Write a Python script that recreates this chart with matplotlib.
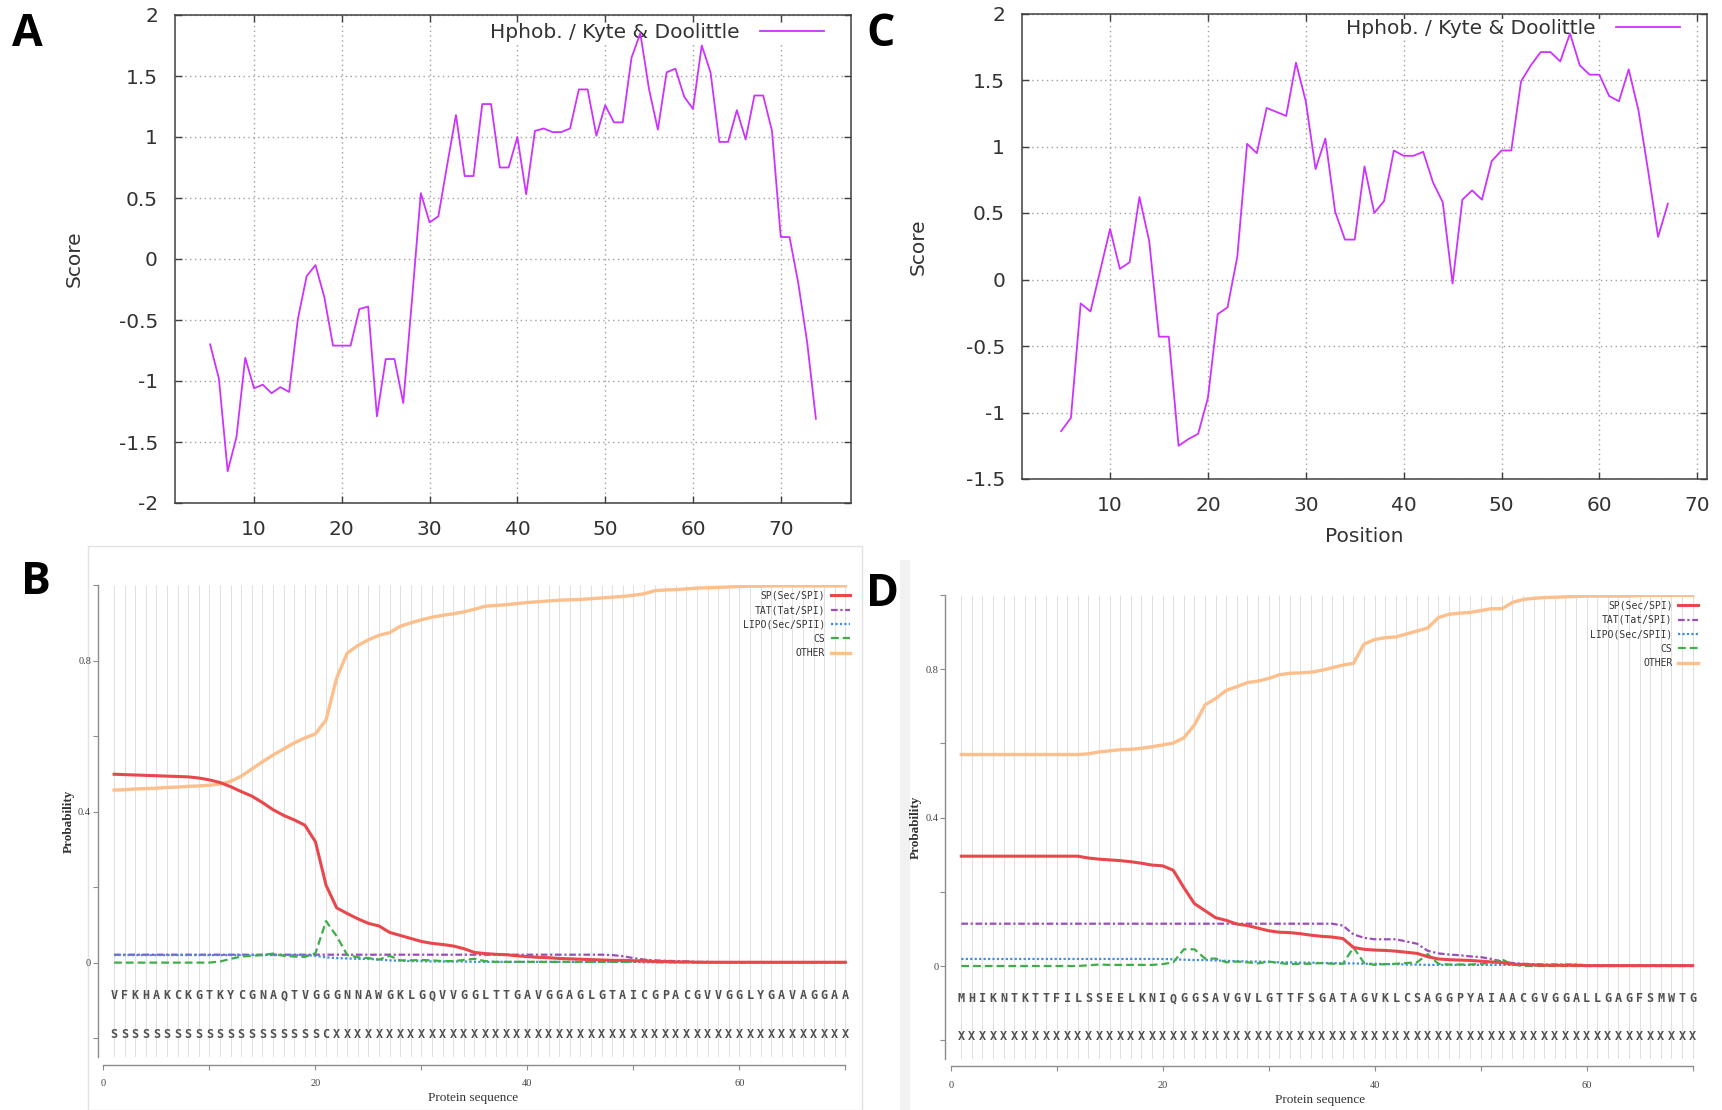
import matplotlib
matplotlib.use("Agg")
import matplotlib.pyplot as plt
from matplotlib.patches import Rectangle
import numpy as np

# ---------------- data ----------------
# Panel A: Kyte & Doolittle hydrophobicity (positions 5..74)
a_pos = list(range(5, 75))
a_score = [-0.70, -0.98, -1.74, -1.46, -0.81, -1.06, -1.03, -1.10, -1.05, -1.09,
           -0.49, -0.14, -0.05, -0.31, -0.71, -0.71, -0.71, -0.41, -0.39, -1.29,
           -0.82, -0.82, -1.18, -0.33, 0.54, 0.30, 0.35, 0.77, 1.18, 0.68,
           0.68, 1.27, 1.27, 0.75, 0.75, 1.00, 0.53, 1.05, 1.07, 1.04,
           1.04, 1.07, 1.39, 1.39, 1.01, 1.26, 1.12, 1.12, 1.65, 1.85,
           1.39, 1.06, 1.53, 1.56, 1.33, 1.23, 1.75, 1.53, 0.96, 0.96,
           1.22, 0.98, 1.34, 1.34, 1.05, 0.18, 0.18, -0.20, -0.68, -1.31]

# Panel C: Kyte & Doolittle hydrophobicity (positions 5..67)
c_pos = list(range(5, 68))
c_score = [-1.14, -1.04, -0.18, -0.24, 0.07, 0.38, 0.08, 0.13, 0.62, 0.29,
           -0.43, -0.43, -1.25, -1.20, -1.16, -0.89, -0.26, -0.21, 0.17, 1.02,
           0.95, 1.29, 1.26, 1.23, 1.63, 1.34, 0.83, 1.06, 0.51, 0.30,
           0.30, 0.85, 0.50, 0.59, 0.97, 0.93, 0.93, 0.96, 0.73, 0.58,
           -0.03, 0.60, 0.67, 0.60, 0.89, 0.97, 0.97, 1.49, 1.61, 1.71,
           1.71, 1.64, 1.85, 1.61, 1.54, 1.54, 1.38, 1.34, 1.58, 1.27,
           0.81, 0.32, 0.57]

hp_xticks = [10, 20, 30, 40, 50, 60, 70]
a_yticks = [-2, -1.5, -1, -0.5, 0, 0.5, 1, 1.5, 2]
a_yticklabels = ["-2", "-1.5", "-1", "-0.5", "0", "0.5", "1", "1.5", "2"]
c_yticks = [-1.5, -1, -0.5, 0, 0.5, 1, 1.5, 2]
c_yticklabels = ["-1.5", "-1", "-0.5", "0", "0.5", "1", "1.5", "2"]

# Panel B: SignalP probabilities (positions 1..70)
b_seq = "VFKHAKCKGTKYCGNAQTVGGGNNAWGKLGQVVGGLTTGAVGGAGLGTAICGPACGVVGGLYGAVAGGAA"
b_lab = ("SSSSSSSSSSSSSSSSSSSS" "C"
         "XXXXXXXXXX" "XXXXXXXXXX" "XXXXXXXXXX" "XXXXXXXXXX" "XXXXXXXXX")
b_sp = [0.499, 0.498, 0.497, 0.496, 0.495, 0.494, 0.493, 0.492, 0.489, 0.484,
        0.477, 0.466, 0.453, 0.441, 0.424, 0.405, 0.390, 0.378, 0.364, 0.320,
        0.205, 0.145, 0.130, 0.116, 0.104, 0.097, 0.080, 0.072, 0.064, 0.056,
        0.051, 0.048, 0.044, 0.037, 0.027, 0.024, 0.022, 0.021, 0.018, 0.016,
        0.014, 0.013, 0.011, 0.010, 0.009, 0.008, 0.007, 0.006, 0.006, 0.005,
        0.004, 0.003, 0.003, 0.002, 0.002, 0.001, 0.001, 0.001, 0.001, 0.001,
        0.001, 0.001, 0.001, 0.001, 0.001, 0.001, 0.001, 0.001, 0.001, 0.001]
b_tat = [0.021, 0.021, 0.021, 0.021, 0.021, 0.021, 0.021, 0.021, 0.021, 0.021,
         0.021, 0.021, 0.021, 0.021, 0.021, 0.021, 0.021, 0.021, 0.021, 0.021,
         0.021, 0.021, 0.021, 0.021, 0.021, 0.021, 0.021, 0.021, 0.021, 0.021,
         0.021, 0.021, 0.021, 0.021, 0.021, 0.021, 0.021, 0.021, 0.021, 0.021,
         0.021, 0.021, 0.021, 0.021, 0.021, 0.021, 0.021, 0.020, 0.017, 0.012,
         0.008, 0.006, 0.005, 0.004, 0.003, 0.002, 0.002, 0.001, 0.001, 0.001,
         0.001, 0.001, 0.001, 0.001, 0.001, 0.001, 0.001, 0.001, 0.001, 0.001]
b_lipo = [0.020, 0.020, 0.020, 0.020, 0.020, 0.020, 0.020, 0.020, 0.020, 0.020,
          0.020, 0.020, 0.020, 0.020, 0.020, 0.020, 0.020, 0.020, 0.020, 0.018,
          0.014, 0.012, 0.011, 0.010, 0.010, 0.008, 0.006, 0.005, 0.004, 0.004,
          0.003, 0.003, 0.003, 0.003, 0.002, 0.002, 0.002, 0.002, 0.002, 0.002,
          0.002, 0.002, 0.002, 0.002, 0.002, 0.002, 0.002, 0.002, 0.002, 0.002,
          0.001, 0.001, 0.001, 0.001, 0.001, 0.001, 0.001, 0.001, 0.001, 0.001,
          0.001, 0.001, 0.001, 0.001, 0.001, 0.001, 0.001, 0.001, 0.001, 0.001]
b_cs = [0.000, 0.000, 0.000, 0.000, 0.000, 0.000, 0.000, 0.000, 0.000, 0.000,
        0.003, 0.010, 0.016, 0.018, 0.020, 0.024, 0.018, 0.016, 0.015, 0.025,
        0.110, 0.070, 0.020, 0.014, 0.012, 0.008, 0.018, 0.006, 0.006, 0.007,
        0.006, 0.004, 0.004, 0.007, 0.010, 0.004, 0.002, 0.002, 0.002, 0.002,
        0.002, 0.002, 0.002, 0.002, 0.002, 0.002, 0.002, 0.002, 0.002, 0.002,
        0.008, 0.001, 0.001, 0.001, 0.001, 0.001, 0.001, 0.001, 0.001, 0.001,
        0.001, 0.001, 0.001, 0.001, 0.001, 0.001, 0.001, 0.001, 0.001, 0.001]
b_other = [0.457, 0.458, 0.460, 0.461, 0.462, 0.464, 0.465, 0.467, 0.468, 0.470,
           0.473, 0.480, 0.494, 0.513, 0.532, 0.550, 0.566, 0.582, 0.595, 0.606,
           0.643, 0.754, 0.820, 0.840, 0.855, 0.867, 0.874, 0.891, 0.900, 0.908,
           0.915, 0.920, 0.924, 0.929, 0.936, 0.944, 0.946, 0.948, 0.951, 0.954,
           0.956, 0.958, 0.960, 0.961, 0.962, 0.964, 0.966, 0.968, 0.970, 0.973,
           0.977, 0.985, 0.987, 0.988, 0.990, 0.992, 0.993, 0.994, 0.995, 0.996,
           0.997, 0.997, 0.998, 0.998, 0.998, 0.998, 0.998, 0.998, 0.998, 0.998]

# Panel D: SignalP probabilities (positions 1..70)
d_seq = "MHIKNTKTTFILSSEELKNIQGGSAVGVLGTTFSGATAGVKLCSAGGPYAIAACGVGGALLGAGFSMWTG"
d_lab = ("XXXXXXXXXX" "XXXXXXXXXX" "XXXXXXXXXX" "XXXXXXXXXX"
         "XXXXXXXXXX" "XXXXXXXXXX" "XXXXXXXXXX")
d_sp = [0.296, 0.296, 0.296, 0.296, 0.296, 0.296, 0.296, 0.296, 0.296, 0.296,
        0.296, 0.296, 0.291, 0.288, 0.286, 0.284, 0.281, 0.277, 0.272, 0.270,
        0.258, 0.211, 0.168, 0.149, 0.130, 0.123, 0.113, 0.109, 0.102, 0.095,
        0.091, 0.090, 0.087, 0.083, 0.080, 0.078, 0.074, 0.050, 0.045, 0.043,
        0.042, 0.040, 0.037, 0.034, 0.025, 0.019, 0.017, 0.016, 0.015, 0.013,
        0.011, 0.009, 0.005, 0.004, 0.003, 0.002, 0.002, 0.002, 0.002, 0.001,
        0.001, 0.001, 0.001, 0.001, 0.001, 0.001, 0.001, 0.001, 0.001, 0.001]
d_tat = [0.114, 0.114, 0.114, 0.114, 0.114, 0.114, 0.114, 0.114, 0.114, 0.114,
         0.114, 0.114, 0.114, 0.114, 0.114, 0.114, 0.114, 0.114, 0.114, 0.114,
         0.114, 0.114, 0.114, 0.114, 0.114, 0.114, 0.114, 0.114, 0.114, 0.114,
         0.114, 0.114, 0.114, 0.114, 0.114, 0.114, 0.109, 0.085, 0.076, 0.072,
         0.072, 0.072, 0.066, 0.060, 0.041, 0.034, 0.031, 0.029, 0.026, 0.024,
         0.019, 0.012, 0.008, 0.006, 0.005, 0.004, 0.004, 0.004, 0.004, 0.002,
         0.002, 0.002, 0.002, 0.002, 0.002, 0.002, 0.002, 0.002, 0.002, 0.002]
d_lipo = [0.019, 0.019, 0.019, 0.019, 0.019, 0.019, 0.019, 0.019, 0.019, 0.019,
          0.019, 0.019, 0.019, 0.019, 0.019, 0.019, 0.019, 0.019, 0.019, 0.019,
          0.018, 0.017, 0.016, 0.016, 0.015, 0.014, 0.013, 0.012, 0.012, 0.011,
          0.010, 0.010, 0.009, 0.009, 0.008, 0.008, 0.007, 0.007, 0.006, 0.006,
          0.005, 0.005, 0.004, 0.004, 0.003, 0.003, 0.003, 0.003, 0.003, 0.003,
          0.003, 0.003, 0.003, 0.003, 0.001, 0.001, 0.001, 0.001, 0.001, 0.001,
          0.001, 0.001, 0.001, 0.001, 0.001, 0.001, 0.001, 0.001, 0.001, 0.001]
d_cs = [0.000, 0.000, 0.000, 0.000, 0.000, 0.000, 0.000, 0.000, 0.000, 0.000,
        0.000, 0.000, 0.002, 0.004, 0.003, 0.003, 0.003, 0.003, 0.003, 0.005,
        0.010, 0.045, 0.045, 0.020, 0.020, 0.010, 0.012, 0.010, 0.007, 0.012,
        0.008, 0.005, 0.006, 0.006, 0.008, 0.006, 0.006, 0.050, 0.008, 0.003,
        0.005, 0.006, 0.008, 0.010, 0.032, 0.006, 0.004, 0.004, 0.004, 0.006,
        0.008, 0.018, 0.004, 0.000, 0.000, 0.000, 0.000, 0.000, 0.000, 0.000,
        0.000, 0.000, 0.000, 0.000, 0.000, 0.000, 0.000, 0.000, 0.000, 0.000]
d_other = [0.570, 0.570, 0.570, 0.570, 0.570, 0.570, 0.570, 0.570, 0.570, 0.570,
           0.570, 0.570, 0.572, 0.577, 0.580, 0.583, 0.584, 0.587, 0.591, 0.596,
           0.601, 0.615, 0.650, 0.704, 0.721, 0.743, 0.753, 0.764, 0.768, 0.775,
           0.785, 0.789, 0.790, 0.792, 0.797, 0.804, 0.811, 0.816, 0.868, 0.880,
           0.885, 0.887, 0.895, 0.903, 0.911, 0.939, 0.948, 0.951, 0.953, 0.958,
           0.963, 0.963, 0.980, 0.988, 0.991, 0.993, 0.994, 0.995, 0.996, 0.997,
           0.997, 0.997, 0.997, 0.997, 0.999, 0.999, 0.999, 0.999, 0.999, 0.999]

sp_yticks = [-0.2, 0.0, 0.2, 0.4, 0.6, 0.8, 1.0]
sp_yticklabels = ["", "0", "", "0.4", "", "0.8", ""]
sp_xticks = [0, 10, 20, 30, 40, 50, 60, 70]
sp_xticklabels = ["0", "", "20", "", "40", "", "60", ""]

# ---------------- figure ----------------
W, H = 1722, 1110
fig = plt.figure(figsize=(W / 100, H / 100), dpi=100)
fig.patch.set_facecolor("white")


def rect(l, t, r, b):
    return [l / W, 1 - b / H, (r - l) / W, (b - t) / H]


def px(p):
    return p * 0.72


HCOL = "#cc33ff"
FRAME = "#404040"


def hydro(ax, pos, vals, xlim, ylim, yticks, yticklabels, leg_anchor, ylab_x, xlabel=None):
    ax.plot(pos, vals, color=HCOL, lw=1.3, label="Hphob. / Kyte & Doolittle", zorder=3)
    ax.set_xlim(*xlim)
    ax.set_ylim(*ylim)
    ax.set_xticks(hp_xticks)
    ax.set_yticks(yticks)
    ax.set_yticklabels(yticklabels)
    ax.set_axisbelow(True)
    ax.grid(True, color="#a0a0a0", linestyle=(0, (1, 2.5)), linewidth=1.0)
    ax.tick_params(direction="in", top=True, right=True, length=px(7), width=1.0,
                   color=FRAME, labelsize=14.5, labelcolor="#333333", pad=px(17))
    for s in ax.spines.values():
        s.set_color(FRAME)
        s.set_linewidth(1.1)
    ax.set_ylabel("Score", fontsize=14.5, color="#333333")
    ax.yaxis.set_label_coords(ylab_x, 0.5)
    if xlabel:
        ax.set_xlabel(xlabel, fontsize=14.5, color="#333333")
    leg = ax.legend(loc="upper right", bbox_to_anchor=leg_anchor, frameon=True,
                    facecolor="white", edgecolor="none", framealpha=1.0, fancybox=False,
                    borderpad=0.0, borderaxespad=0.0, handlelength=3.2,
                    handletextpad=1.0, markerfirst=False, fontsize=14.5)
    for t in leg.get_texts():
        t.set_color("#333333")
    leg.set_zorder(2)
    return ax


# Panel A
axA = fig.add_axes(rect(175, 15, 851, 503))
hydro(axA, a_pos, a_score, (1, 78), (-2, 2), a_yticks, a_yticklabels,
      (0.960, 0.984), (84 - 175) / 676)

# Panel C
axC = fig.add_axes(rect(1022, 13.5, 1707, 479))
hydro(axC, c_pos, c_score, (1, 71), (-1.5, 2), c_yticks, c_yticklabels,
      (0.9606, 0.988), (928 - 1022) / 685, xlabel="Position")
axC.xaxis.set_label_coords(0.5, (479 - 527) / 465.5)

SERIF = ["Liberation Serif", "DejaVu Serif"]
MONO = ["DejaVu Sans Mono"]


def signalp(ax, seq, lab, sp, tat, lipo, cs, other, ylab_x):
    pos = np.arange(1, len(seq) + 1)
    ax.vlines(pos, -0.25, 1.0, color="#e0e0e0", lw=0.75, zorder=0.5)
    ax.plot(pos, sp, color="#e8474c", lw=2.2, label="SP(Sec/SPI)", zorder=3.5)
    ax.plot(pos, tat, color="#9b4dbb", lw=1.6, ls=(0, (3, 1.2, 1, 1.2)),
            label="TAT(Tat/SPI)", zorder=3)
    ax.plot(pos, lipo, color="#3d8fe0", lw=1.6, ls=(0, (1, 1)),
            label="LIPO(Sec/SPII)", zorder=3)
    ax.plot(pos, cs, color="#3fae49", lw=1.6, ls=(0, (3.5, 1.8)), label="CS", zorder=3.2)
    ax.plot(pos, other, color="#fdbf8c", lw=2.4, label="OTHER", zorder=3)
    for i, (a, b) in enumerate(zip(seq, lab)):
        ax.text(pos[i], -0.088, a, ha="center", va="center", fontsize=8.5,
                family=MONO, color="#505050", fontweight="bold")
        ax.text(pos[i], -0.19, b, ha="center", va="center", fontsize=8.5,
                family=MONO, color="#505050", fontweight="bold")
    ax.set_xlim(-0.5, 70.2)
    ax.set_ylim(-0.25, 1.0)
    ax.set_yticks(sp_yticks)
    ax.set_yticklabels(sp_yticklabels)
    ax.set_xticks(sp_xticks)
    ax.set_xticklabels(sp_xticklabels)
    ax.spines["top"].set_visible(False)
    ax.spines["right"].set_visible(False)
    ax.spines["left"].set_color("#8c8c8c")
    ax.spines["bottom"].set_color("#8c8c8c")
    ax.spines["left"].set_linewidth(1.0)
    ax.spines["bottom"].set_linewidth(1.0)
    ax.spines["bottom"].set_position(("outward", px(7.5)))
    ax.spines["bottom"].set_bounds(0, 70)
    ax.tick_params(axis="both", direction="out", length=px(5), width=0.8,
                   color="#8c8c8c", labelsize=7.5, labelcolor="#444444")
    ax.tick_params(axis="y", pad=1.5)
    ax.tick_params(axis="x", pad=px(10))
    for t in ax.get_xticklabels() + ax.get_yticklabels():
        t.set_family(SERIF)
    ax.set_ylabel("Probability", fontsize=9.5, family=SERIF, fontweight="bold",
                  color="#333333")
    ax.yaxis.set_label_coords(ylab_x, 0.5)
    ax.set_xlabel("Protein sequence", fontsize=9.5, family=SERIF, color="#333333")
    ax.xaxis.set_label_coords(0.5, -0.075)
    leg = ax.legend(loc="upper right", bbox_to_anchor=(1.004, 0.988), frameon=False,
                    prop={"family": MONO, "size": 7}, handlelength=2.0,
                    handletextpad=0.6, labelspacing=0.45, markerfirst=False,
                    borderaxespad=0.0, borderpad=0.0)
    for t in leg.get_texts():
        t.set_color("#333333")
    return ax


# panel backgrounds / frames (screenshot borders)
fig.add_artist(Rectangle((88 / W, 0), (862 - 88) / W, (1110 - 546) / H,
                         transform=fig.transFigure, fill=False,
                         edgecolor="#e2e2e2", lw=1.0, zorder=0))
fig.add_artist(Rectangle((900 / W, 0), 10 / W, (1110 - 560) / H,
                         transform=fig.transFigure, facecolor="#f1f1f1",
                         edgecolor="none", zorder=0))

# Panel B
axB = fig.add_axes(rect(98.2, 585.1, 847.5, 1057.0))
signalp(axB, b_seq, b_lab, b_sp, b_tat, b_lipo, b_cs, b_other, (75 - 98.2) / 749.3)

# Panel D
axD = fig.add_axes(rect(945.4, 595.0, 1694.8, 1058.75))
signalp(axD, d_seq, d_lab, d_sp, d_tat, d_lipo, d_cs, d_other, (921.7 - 945.4) / 749.4)

# Panel letters
for letter, x, y in [("A", 27.5, 35), ("B", 36, 583), ("C", 881, 34), ("D", 883, 594)]:
    fig.text(x / W, 1 - y / H, letter, ha="center", va="center", fontsize=32,
             fontweight="bold", family=["Open Sans", "DejaVu Sans"], color="black")

fig.savefig("out.png", dpi=100, facecolor="white")
